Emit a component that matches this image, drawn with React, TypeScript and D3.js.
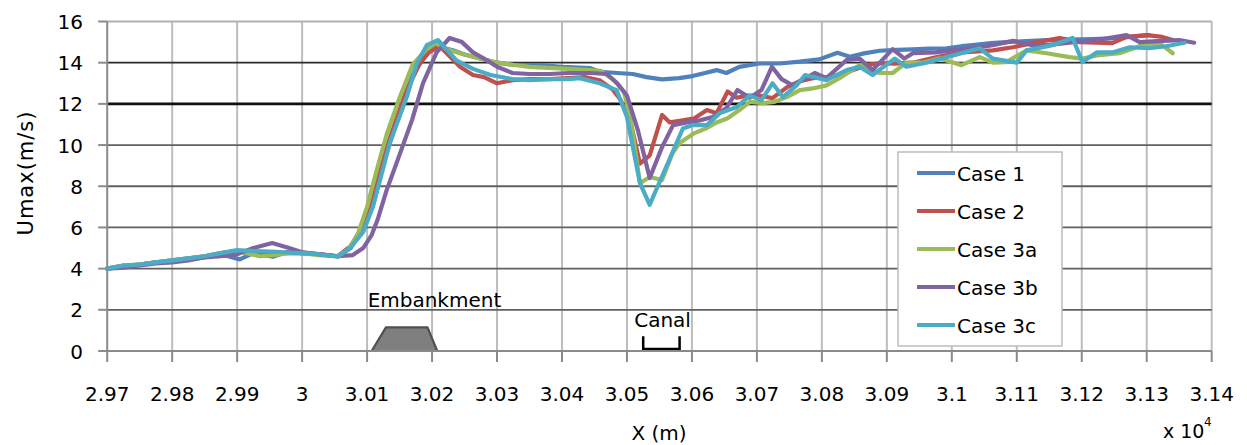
import * as d3 from 'd3';

// x in units of 10^4 m, Umax in m/s
const xTicks = [2.97, 2.98, 2.99, 3.0, 3.01, 3.02, 3.03, 3.04, 3.05, 3.06, 3.07, 3.08, 3.09, 3.1, 3.11, 3.12, 3.13, 3.14];
const xTickLabels = ['2.97', '2.98', '2.99', '3', '3.01', '3.02', '3.03', '3.04', '3.05', '3.06', '3.07', '3.08', '3.09', '3.1', '3.11', '3.12', '3.13', '3.14'];
const yTicks = [0, 2, 4, 6, 8, 10, 12, 14, 16];

const caseNames = ['Case 1', 'Case 2', 'Case 3a', 'Case 3b', 'Case 3c'];
const caseColors = ['#4F81BD', '#C0504D', '#9BBB59', '#8064A2', '#4BACC6'];

const case1: [number, number][] = [
  [2.970, 4.0], [2.9725, 4.15], [2.975, 4.2], [2.9775, 4.3], [2.980, 4.35], [2.9825, 4.45], [2.985, 4.55],
  [2.9875, 4.7], [2.9904, 4.45], [2.9925, 4.75], [2.9955, 4.58], [2.9975, 4.8], [3.000, 4.75], [3.0025, 4.7],
  [3.0055, 4.6], [3.0075, 5.0], [3.009, 5.8], [3.011, 7.6], [3.013, 9.6], [3.015, 11.6], [3.017, 13.4],
  [3.019, 14.4], [3.0207, 14.8], [3.0232, 14.6], [3.025, 14.4], [3.0274, 14.2], [3.030, 14.0], [3.0324, 13.9],
  [3.035, 13.88], [3.0366, 13.88], [3.040, 13.8], [3.0443, 13.74], [3.0458, 13.56], [3.0485, 13.5], [3.0509, 13.45],
  [3.053, 13.3], [3.0554, 13.19], [3.058, 13.25], [3.0601, 13.35], [3.062, 13.5], [3.0638, 13.64], [3.0653, 13.5],
  [3.0673, 13.8], [3.0704, 13.96], [3.0735, 13.96], [3.0766, 14.05], [3.0796, 14.16], [3.0824, 14.48],
  [3.0843, 14.29], [3.0865, 14.45], [3.0889, 14.58], [3.0915, 14.62], [3.094, 14.65], [3.0965, 14.68],
  [3.0992, 14.7], [3.1015, 14.8], [3.1032, 14.85], [3.106, 14.95], [3.1084, 15.0], [3.1115, 15.05],
  [3.1146, 15.1], [3.118, 15.12], [3.1215, 15.15], [3.1247, 15.18], [3.1275, 15.25], [3.1304, 15.34],
];

const case2: [number, number][] = [
  [2.970, 4.0], [2.9725, 4.1], [2.975, 4.2], [2.9775, 4.3], [2.980, 4.4], [2.9825, 4.5], [2.985, 4.6],
  [2.9875, 4.75], [2.990, 4.85], [2.9925, 4.8], [2.995, 4.75], [2.9975, 4.75], [3.000, 4.75], [3.0025, 4.7],
  [3.0055, 4.6], [3.0075, 5.1], [3.009, 5.9], [3.0105, 7.2], [3.012, 8.9], [3.014, 10.8], [3.016, 12.6],
  [3.018, 13.9], [3.0195, 14.5], [3.0212, 14.8], [3.0243, 13.8], [3.0263, 13.4], [3.028, 13.3], [3.030, 13.0],
  [3.0324, 13.15], [3.035, 13.2], [3.038, 13.2], [3.041, 13.25], [3.0435, 13.3], [3.0458, 13.15], [3.0478, 12.7],
  [3.049, 12.2], [3.0505, 11.2], [3.052, 9.1], [3.0535, 9.5], [3.0554, 11.46], [3.0566, 11.1], [3.0586, 11.2],
  [3.0604, 11.3], [3.0623, 11.7], [3.0638, 11.55], [3.0655, 12.6], [3.0669, 12.3], [3.0684, 12.4], [3.0704, 12.4],
  [3.0724, 12.28], [3.0746, 12.8], [3.0766, 13.1], [3.0786, 13.25], [3.0807, 13.3], [3.0827, 13.4], [3.0848, 13.64],
  [3.0869, 13.88], [3.0889, 13.98], [3.0912, 13.95], [3.094, 14.0], [3.0977, 14.27], [3.1017, 14.5], [3.1063, 14.6],
  [3.1094, 14.75], [3.1124, 14.95], [3.1166, 15.2], [3.1197, 15.0], [3.1247, 14.95], [3.1269, 15.25], [3.1300, 15.34],
  [3.1324, 15.25], [3.1340, 15.1],
];

const case3a: [number, number][] = [
  [2.970, 4.0], [2.9725, 4.15], [2.975, 4.2], [2.9775, 4.3], [2.980, 4.4], [2.9825, 4.5], [2.985, 4.6],
  [2.9875, 4.75], [2.990, 4.85], [2.9935, 4.6], [2.9955, 4.65], [2.998, 4.75], [3.000, 4.75], [3.0025, 4.65],
  [3.0055, 4.6], [3.007, 4.9], [3.0085, 5.6], [3.010, 7.0], [3.0115, 8.8], [3.013, 10.5], [3.015, 12.3],
  [3.017, 13.9], [3.019, 14.6], [3.0205, 14.95], [3.0227, 14.6], [3.025, 14.4], [3.0274, 14.2], [3.030, 14.0],
  [3.0324, 13.9], [3.035, 13.8], [3.038, 13.75], [3.041, 13.7], [3.0443, 13.64], [3.046, 13.6], [3.048, 13.15],
  [3.0495, 12.6], [3.0505, 11.4], [3.052, 8.15], [3.0535, 8.45], [3.0554, 8.3], [3.057, 9.6], [3.0581, 10.1],
  [3.0604, 10.58], [3.0623, 10.83], [3.0638, 11.1], [3.0655, 11.3], [3.0673, 11.7], [3.0689, 12.1], [3.0709, 12.04],
  [3.0727, 12.1], [3.0746, 12.33], [3.0766, 12.67], [3.0786, 12.75], [3.0807, 12.9], [3.0827, 13.25],
  [3.0858, 13.88], [3.0873, 13.64], [3.0889, 13.5], [3.0909, 13.5], [3.0930, 14.0], [3.0955, 14.0], [3.0981, 14.22],
  [3.1015, 13.88], [3.1043, 14.27], [3.1063, 14.0], [3.1084, 14.03], [3.1115, 14.6], [3.1146, 14.46], [3.1181, 14.27],
  [3.1201, 14.2], [3.1227, 14.37], [3.1258, 14.46], [3.1293, 14.85], [3.1324, 14.85], [3.1340, 14.46],
];

const case3b: [number, number][] = [
  [2.970, 4.0], [2.9725, 4.05], [2.975, 4.15], [2.9775, 4.25], [2.980, 4.3], [2.9825, 4.4], [2.985, 4.55],
  [2.9875, 4.6], [2.990, 4.7], [2.9925, 5.0], [2.9954, 5.24], [2.998, 5.0], [3.000, 4.8], [3.0025, 4.7],
  [3.0055, 4.6], [3.0078, 4.66], [3.0094, 5.0], [3.0107, 5.63], [3.0116, 6.36], [3.013, 7.8], [3.0147, 9.27],
  [3.0169, 11.2], [3.0186, 13.0], [3.0207, 14.5], [3.0227, 15.2], [3.0246, 15.0], [3.0263, 14.5], [3.028, 14.2],
  [3.030, 13.8], [3.0324, 13.5], [3.035, 13.45], [3.038, 13.45], [3.041, 13.5], [3.0443, 13.5], [3.0469, 13.45],
  [3.0485, 13.0], [3.050, 12.4], [3.0517, 10.7], [3.0535, 8.4], [3.0554, 9.9], [3.0571, 10.97], [3.0592, 11.1],
  [3.0612, 11.2], [3.0632, 11.36], [3.0653, 11.8], [3.067, 12.67], [3.0689, 12.3], [3.0707, 12.67], [3.0723, 13.8],
  [3.0738, 13.2], [3.0755, 12.9], [3.0789, 13.5], [3.0807, 13.25], [3.0838, 14.13], [3.0858, 14.2], [3.0878, 13.64],
  [3.0909, 14.66], [3.0927, 14.2], [3.094, 14.46], [3.0975, 14.5], [3.1001, 14.6], [3.1043, 14.75], [3.1063, 14.85],
  [3.1094, 15.06], [3.1124, 14.85], [3.1146, 14.85], [3.1181, 14.97], [3.1223, 15.1], [3.1269, 15.34], [3.1289, 15.0],
  [3.1324, 15.06], [3.135, 15.1], [3.1373, 14.97],
];

const case3c: [number, number][] = [
  [2.970, 4.0], [2.9725, 4.15], [2.975, 4.2], [2.9775, 4.3], [2.980, 4.4], [2.9825, 4.5], [2.985, 4.6],
  [2.9875, 4.75], [2.990, 4.9], [2.9925, 4.85], [2.9961, 4.82], [2.9986, 4.76], [3.000, 4.75], [3.0025, 4.7],
  [3.0055, 4.58], [3.0074, 5.0], [3.0094, 5.78], [3.0109, 7.0], [3.0135, 10.1], [3.0161, 12.33], [3.0177, 14.0],
  [3.0192, 14.85], [3.0209, 15.1], [3.0238, 14.1], [3.0263, 13.7], [3.029, 13.4], [3.0324, 13.2], [3.035, 13.15],
  [3.038, 13.2], [3.041, 13.2], [3.0427, 13.25], [3.0458, 13.0], [3.0484, 12.67], [3.050, 11.36], [3.052, 8.15],
  [3.0535, 7.1], [3.0577, 10.15], [3.0586, 10.8], [3.0601, 10.97], [3.0623, 10.97], [3.0643, 11.55], [3.0669, 11.85],
  [3.0689, 12.4], [3.0707, 12.18], [3.0724, 13.0], [3.074, 12.33], [3.0761, 12.9], [3.0774, 13.4], [3.0807, 13.15],
  [3.0838, 13.64], [3.0858, 13.8], [3.0878, 13.4], [3.0912, 14.2], [3.093, 13.8], [3.0961, 14.0], [3.0992, 14.27],
  [3.1043, 14.7], [3.1063, 14.2], [3.11, 14.0], [3.1115, 14.6], [3.1155, 14.85], [3.1186, 15.2], [3.1201, 14.03],
  [3.1223, 14.5], [3.1247, 14.5], [3.1274, 14.75], [3.1304, 14.7], [3.133, 14.8], [3.1358, 14.97],
];

const caseSeries = [case1, case2, case3a, case3b, case3c];

// annotations, in data units
const embankmentBase = [3.0107, 3.0208];
const embankmentTop = [3.0129, 3.0193];
const embankmentHeight = 1.15;
const canalSpan = [3.0525, 3.0581];
const canalDepth = [0.1, 0.72];

const FONT = '"DejaVu Sans", sans-serif';

export default function App() {
  const width = 1247;
  const height = 445;

  const x = d3.scaleLinear().domain([2.97, 3.14]).range([107.2, 1211.7]);
  const y = d3.scaleLinear().domain([0, 16]).range([351, 21.5]);

  const line = d3.line<[number, number]>()
    .x(d => x(d[0]))
    .y(d => y(d[1]));

  const gridStroke = (t: number) => (t === 12 ? '#111' : t === 14 ? '#2a2a2a' : t === 16 ? '#b0b0b0' : '#606060');
  const gridWidth = (t: number) => (t === 12 ? 2.6 : 1.8);

  const trapezoid = [
    [x(embankmentBase[0]), y(0)],
    [x(embankmentTop[0]), y(embankmentHeight)],
    [x(embankmentTop[1]), y(embankmentHeight)],
    [x(embankmentBase[1]), y(0)],
  ].map(p => p.join(',')).join(' ');

  const legendX = 898;
  const legendY = 152;
  const legendRow = 38;

  return (
    <svg
      width={width}
      height={height}
      viewBox={`0 0 ${width} ${height}`}
      style={{ position: 'absolute', left: 0, top: 0, background: '#fff' }}
    >
      <rect width={width} height={height} fill="#fff" />

      {/* vertical grid */}
      {xTicks.slice(1).map((t, i) => (
        <line key={`vg-${i}`} x1={x(t)} x2={x(t)} y1={y(16)} y2={y(0)} stroke="#bdbdbd" strokeWidth={2} />
      ))}

      {/* horizontal grid */}
      {yTicks.slice(1).map((t, i) => (
        <line key={`hg-${i}`} x1={x(2.97)} x2={x(3.14)} y1={y(t)} y2={y(t)} stroke={gridStroke(t)} strokeWidth={gridWidth(t)} />
      ))}

      {/* embankment */}
      <polygon points={trapezoid} fill="#7f7f7f" stroke="#505050" strokeWidth={2.2} strokeLinejoin="round" />
      <text x={x(embankmentBase[0]) - 4} y={307} fontFamily={FONT} fontSize={20} fill="#000">Embankment</text>

      {/* canal */}
      <path
        d={`M${x(canalSpan[0])},${y(canalDepth[1])}V${y(canalDepth[0])}H${x(canalSpan[1])}V${y(canalDepth[1])}`}
        fill="none"
        stroke="#000"
        strokeWidth={2.5}
      />
      <text x={x(canalSpan[0]) - 9} y={327} fontFamily={FONT} fontSize={20} fill="#000">Canal</text>

      {/* axes */}
      <line x1={x(2.97)} x2={x(2.97)} y1={y(16)} y2={y(0)} stroke="#8a8a8a" strokeWidth={2} />
      <line x1={x(2.97)} x2={x(3.14)} y1={y(0)} y2={y(0)} stroke="#8a8a8a" strokeWidth={2} />

      {yTicks.map((t, i) => (
        <g key={`yt-${i}`}>
          <line x1={x(2.97) - 9} x2={x(2.97)} y1={y(t)} y2={y(t)} stroke="#8a8a8a" strokeWidth={2} />
          <text x={83} y={y(t) + 7.5} textAnchor="end" fontFamily={FONT} fontSize={20} fill="#000">{t}</text>
        </g>
      ))}

      {xTicks.map((t, i) => (
        <g key={`xt-${i}`}>
          <line x1={x(t)} x2={x(t)} y1={y(0)} y2={y(0) + 11} stroke="#8a8a8a" strokeWidth={2} />
          <text x={x(t)} y={401} textAnchor="middle" fontFamily={FONT} fontSize={20} fill="#000">{xTickLabels[i]}</text>
        </g>
      ))}

      <text x={659} y={440} textAnchor="middle" fontFamily={FONT} fontSize={20} fill="#000">X (m)</text>
      <text x={1163} y={438} fontFamily={FONT} fontSize={19} fill="#000">x 10</text>
      <text x={1204} y={426} fontFamily={FONT} fontSize={12} fill="#000">4</text>

      <text
        transform="translate(33,173) rotate(-90)"
        textAnchor="middle"
        fontFamily={FONT}
        fontSize={21}
        letterSpacing={1}
        fill="#000"
      >
        Umax(m/s)
      </text>

      {/* series */}
      <g>
        {caseSeries.map((s, i) => (
          <path
            key={`s-${i}`}
            d={line(s) || ''}
            fill="none"
            stroke={caseColors[i]}
            strokeWidth={4.2}
            strokeLinejoin="round"
            strokeLinecap="round"
          />
        ))}
      </g>

      {/* legend */}
      <rect x={legendX} y={legendY} width={164} height={194} fill="#fff" stroke="#bdbdbd" strokeWidth={1.5} />
      {caseNames.map((name, i) => {
        const cy = legendY + 21 + i * legendRow;
        return (
          <g key={`lg-${i}`}>
            <line x1={legendX + 19} x2={legendX + 57} y1={cy} y2={cy} stroke={caseColors[i]} strokeWidth={4.2} />
            <text x={legendX + 59} y={cy + 7.5} fontFamily={FONT} fontSize={20} fill="#000">{name}</text>
          </g>
        );
      })}
    </svg>
  );
}
